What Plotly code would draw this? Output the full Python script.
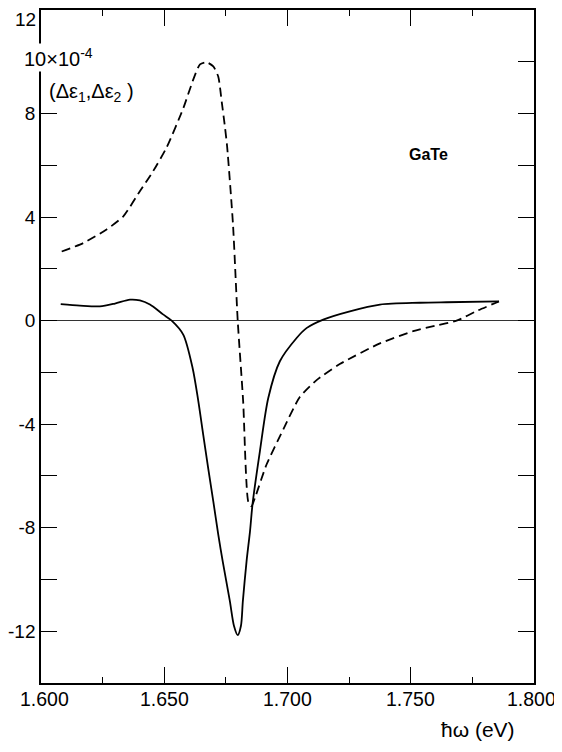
import plotly.graph_objects as go

# Solid curve (Delta eps_1)
x_solid = [1.6080, 1.6158, 1.6239, 1.6300, 1.6361, 1.6401, 1.6442, 1.6495, 1.6530,
           1.6577, 1.6615, 1.6638, 1.6658, 1.6678, 1.6699, 1.6719, 1.6737, 1.6766,
           1.6783, 1.6798, 1.6811, 1.6819, 1.6834, 1.6848, 1.6858, 1.6888, 1.6922,
           1.6969, 1.7037, 1.7077, 1.7145, 1.7253, 1.7375, 1.7537, 1.7645, 1.7858]
y_solid = [0.64, 0.58, 0.55, 0.66, 0.81, 0.78, 0.62, 0.24, 0.0,
           -0.54, -1.83, -3.1, -4.4, -5.69, -6.98, -8.26, -9.29, -10.83,
           -11.8, -12.15, -11.8, -10.83, -9.29, -8.13, -7.1, -5.05, -2.99,
           -1.57, -0.67, -0.29, 0.04, 0.36, 0.62, 0.69, 0.71, 0.74]

# Dashed curve (Delta eps_2)
x_dash = [1.6084, 1.6172, 1.6266, 1.6334, 1.6401, 1.6454, 1.6510, 1.6577, 1.6618,
          1.6645, 1.6672, 1.6699, 1.6719, 1.6733, 1.6746, 1.6755, 1.6779, 1.6798,
          1.6820, 1.6841, 1.6854, 1.6868, 1.6915, 1.6983, 1.7050, 1.7118, 1.7212,
          1.7375, 1.7510, 1.7598, 1.7686, 1.7772, 1.7858]
y_dash = [2.67, 3.0, 3.52, 4.03, 5.0, 5.76, 6.7, 8.2, 9.32,
          9.9, 9.98, 9.82, 9.43, 8.47, 7.5, 6.73, 3.7, 0.0,
          -3.1, -7.0, -7.17, -6.85, -5.56, -4.2, -2.95, -2.3, -1.68,
          -0.88, -0.41, -0.2, 0.0, 0.39, 0.74]

x_tickvals = [1.600, 1.650, 1.700, 1.750, 1.800]
x_ticktext = ["1.600", "1.650", "1.700", "1.750", "1.800"]
y_tickvals = [-12, -10, -8, -6, -4, -2, 0, 2, 4, 6, 8, 10, 12]
y_ticktext = ["-12", "", "-8", "", "-4", "", "0", "", "4", "", "8", "", ""]
top_label = "12"

fig = go.Figure()
fig.add_trace(go.Scatter(x=x_solid, y=y_solid, mode="lines",
                         line=dict(color="black", width=1.8, shape="spline", smoothing=0.8),
                         showlegend=False))
fig.add_trace(go.Scatter(x=x_dash, y=y_dash, mode="lines",
                         line=dict(color="black", width=1.8, dash="9px,5px",
                                   shape="spline", smoothing=0.6),
                         showlegend=False))

fnt = "Liberation Sans, Arial, sans-serif"

n = len(x_tickvals)
annotations = [
    dict(text=t, x=v, xref="x", yref="paper", y=0, yanchor="top", xanchor="center",
         yshift=-3, xshift=(3 if i == 0 else (-3 if i == n - 1 else 0)),
         showarrow=False, font=dict(size=19.5, family=fnt))
    for i, (v, t) in enumerate(zip(x_tickvals, x_ticktext))
]
annotations += [
    dict(text=top_label, xref="paper", yref="paper", x=-0.006, y=0.986,
         xanchor="right", yanchor="middle", showarrow=False,
         font=dict(size=19, family=fnt)),
    dict(text="10×10<sup>-4</sup>", xref="paper", yref="paper", x=-0.038, y=0.93,
         xanchor="left", yanchor="middle", showarrow=False, bgcolor="white",
         font=dict(size=20, family=fnt)),
    dict(text="(Δε<sub>1</sub>,Δε<sub>2</sub> )", xref="paper", yref="paper",
         x=0.012, y=0.878, xanchor="left", yanchor="middle", showarrow=False,
         font=dict(size=20, family=fnt)),
    dict(text="<b>GaTe</b>", xref="paper", yref="paper", x=0.787, y=0.7855,
         xanchor="center", yanchor="middle", showarrow=False,
         font=dict(size=16, family=fnt)),
    dict(text="ħω (eV)", xref="paper", yref="paper", x=0.886, y=-0.0895,
         xanchor="center", yanchor="bottom", showarrow=False,
         font=dict(size=21, family=fnt)),
]

# The page body adds an 8px margin, so the figure is kept inside the window.
fig.update_layout(
    width=554, height=736,
    margin=dict(l=33, r=28, t=1.5, b=61, autoexpand=False),
    paper_bgcolor="white", plot_bgcolor="white",
    font=dict(family=fnt, color="black"),
    xaxis=dict(range=[1.6, 1.8], tickvals=x_tickvals, showticklabels=False,
               ticks="inside", ticklen=16, tickwidth=1.3, tickcolor="black",
               showline=True, linecolor="black", linewidth=1.5, mirror="ticks",
               showgrid=False, zeroline=False, automargin=False,
               minor=dict(tickvals=[1.625, 1.675, 1.725, 1.775], ticks="inside",
                          ticklen=6, tickwidth=1.3, tickcolor="black", showgrid=False)),
    yaxis=dict(range=[-14, 12], tickvals=y_tickvals, ticktext=y_ticktext,
               ticks="inside", ticklen=16, tickwidth=1.3, tickcolor="black",
               showline=True, linecolor="black", linewidth=1.5, mirror="ticks",
               showgrid=False, zeroline=True, zerolinecolor="#333", zerolinewidth=1,
               automargin=False, tickfont=dict(size=19, family=fnt)),
    annotations=annotations,
)

fig.write_html("out.html")
